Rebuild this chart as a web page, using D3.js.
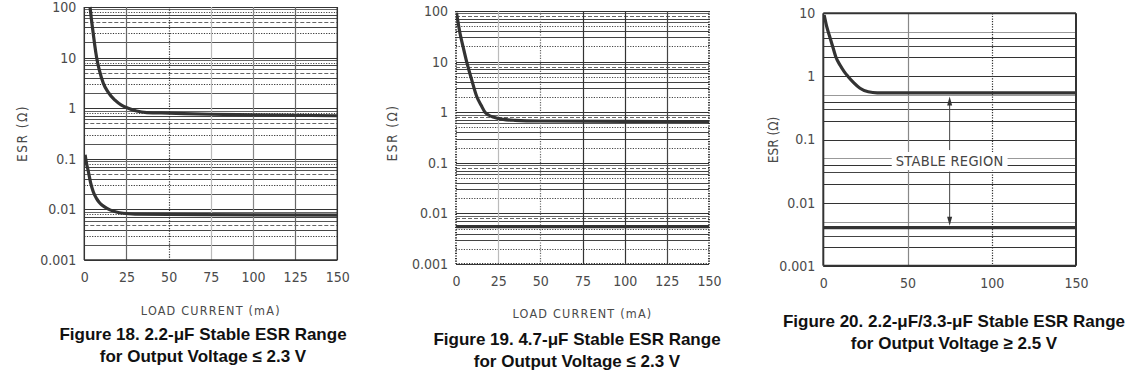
<!DOCTYPE html>
<html lang="en">
<head>
<meta charset="utf-8">
<title>Stable ESR Range</title>
<style>
body{ margin:0; background:#fff; }
svg{ display:block; }
.tick text{
  font-family: "DejaVu Sans Condensed", "DejaVu Sans", sans-serif;
  font-size: 14px;
  fill: #4a4a4a;
}
.axis-title{
  font-family: "DejaVu Sans Condensed", "DejaVu Sans", sans-serif;
  fill: #4a4a4a;
  text-anchor: middle;
}
.caption{
  font-family: "Liberation Sans", Arial, sans-serif;
  font-weight: bold;
  font-size: 17px;
  fill: #111;
  text-anchor: middle;
}
</style>
</head>
<body>
<div id="chart"></div>
<script src="https://d3js.org/d3.v7.min.js"></script>
<script>
// ---- data ----
const yLabels = {0.001: "0.001", 0.01: "0.01", 0.1: "0.1", 1: "1", 10: "10", 100: "100"};

// Figure 18, 2.2 uF, Vout <= 2.3 V
const fig18XTicks = [0, 25, 50, 75, 100, 125, 150];
const fig18YTicks = [0.001, 0.01, 0.1, 1, 10, 100];
const fig18UpperCurrent = [3.4, 4.2, 5.3, 6.2, 7.3, 9, 11.3, 14, 18.2, 22, 26, 31, 37, 50, 75, 100, 150];
const fig18UpperEsr     = [100, 58, 30, 17.5, 10, 5.5, 3.1, 2.1, 1.44, 1.15, 1.0, 0.88, 0.82, 0.8, 0.76, 0.74, 0.71];
const fig18LowerCurrent = [0.5, 1.2, 2.4, 3.8, 5.3, 7.2, 9.3, 12, 15.2, 19, 23, 30, 50, 100, 150];
const fig18LowerEsr     = [0.12, 0.085, 0.056, 0.033, 0.0224, 0.0165, 0.0132, 0.0112, 0.0098, 0.0089, 0.0084, 0.0081, 0.008, 0.0078, 0.0077];

// Figure 19, 4.7 uF, Vout <= 2.3 V
const fig19XTicks = [0, 25, 50, 75, 100, 125, 150];
const fig19YTicks = [0.001, 0.01, 0.1, 1, 10, 100];
const fig19UpperCurrent = [0.3, 2.4, 4.3, 6.3, 9.2, 12.3, 15, 17.2, 19.5, 22, 28, 35, 50, 100, 150];
const fig19UpperEsr     = [92, 36, 19, 10, 4.5, 2.04, 1.35, 1.0, 0.87, 0.8, 0.72, 0.69, 0.67, 0.66, 0.65];
const fig19LowerCurrent = [0, 150];
const fig19LowerEsr     = [0.0055, 0.0055];

// Figure 20, 2.2 uF / 3.3 uF, Vout >= 2.5 V
const fig20XTicks = [0, 50, 100, 150];
const fig20YTicks = [0.001, 0.01, 0.1, 1, 10];
const fig20UpperCurrent = [0.5, 2, 4, 5.7, 7.4, 10, 12.5, 14.8, 18, 21.8, 26.7, 32, 50, 100, 150];
const fig20UpperEsr     = [9.4, 6.2, 4.1, 2.9, 2.05, 1.5, 1.18, 0.99, 0.8, 0.65, 0.57, 0.55, 0.55, 0.55, 0.55];
const fig20LowerCurrent = [0, 150];
const fig20LowerEsr     = [0.004, 0.004];

// ---- drawing ----
const width = 1137, height = 384;
const svg = d3.select("#chart").append("svg")
  .attr("width", width)
  .attr("height", height);

svg.append("rect").attr("width", width).attr("height", height).attr("fill", "#fff");

const dash = {solid: null, dot: "1.2,1.4", dash: "4,2"};

function zip(xs, ys) { return xs.map((v, i) => [v, ys[i]]); }
function mult(v) { return Math.round(v / Math.pow(10, Math.floor(Math.log10(v) + 1e-9))); }

function panel(cfg) {
  const x = d3.scaleLinear().domain([0, 150]).range([cfg.left, cfg.right]);
  const y = d3.scaleLog().domain(cfg.yDomain).range([cfg.bottom, cfg.top]);
  const g = svg.append("g");

  // horizontal grid, one line per 1..9 multiple of every decade
  const levels = y.ticks().filter(v => mult(v) <= cfg.maxMult);
  g.selectAll(".hgrid").data(levels).enter().append("line")
    .attr("x1", cfg.left).attr("x2", cfg.right)
    .attr("y1", d => Math.round(y(d)) + 0.5).attr("y2", d => Math.round(y(d)) + 0.5)
    .attr("stroke", d => cfg.hStyle[mult(d) - 1][1])
    .attr("stroke-width", 1)
    .attr("stroke-dasharray", d => dash[cfg.hStyle[mult(d) - 1][0]]);

  // vertical grid
  const inner = cfg.xTicks.slice(1, -1);
  g.selectAll(".vgrid").data(inner).enter().append("line")
    .attr("x1", d => Math.round(x(d)) + 0.5).attr("x2", d => Math.round(x(d)) + 0.5)
    .attr("y1", cfg.top).attr("y2", cfg.bottom)
    .attr("stroke", (d, i) => cfg.vStyle[i][1])
    .attr("stroke-width", 1.2)
    .attr("stroke-dasharray", (d, i) => dash[cfg.vStyle[i][0]]);

  // frame
  const b = cfg.border;
  const sides = [
    ["left", cfg.left, cfg.top, cfg.left, cfg.bottom],
    ["right", cfg.right, cfg.top, cfg.right, cfg.bottom],
    ["bottom", cfg.left, cfg.bottom, cfg.right, cfg.bottom],
    ["top", cfg.left, cfg.top, cfg.right, cfg.top]
  ].filter(s => b.sides.includes(s[0]));
  g.selectAll(".frame").data(sides).enter().append("line")
    .attr("x1", d => d[1]).attr("y1", d => d[2])
    .attr("x2", d => d[3]).attr("y2", d => d[4])
    .attr("stroke", b.color)
    .attr("stroke-width", b.width)
    .attr("stroke-dasharray", dash[b.style]);

  // annotation layer sits between grid and curves
  const notes = g.append("g");

  // curves
  const clipId = "clip" + cfg.id;
  svg.append("clipPath").attr("id", clipId).append("rect")
    .attr("x", cfg.left).attr("y", cfg.top - 1)
    .attr("width", cfg.right - cfg.left).attr("height", cfg.bottom - cfg.top + 1);
  const line = d3.line()
    .x(d => x(d[0])).y(d => y(d[1]))
    .curve(d3.curveMonotoneX);
  g.selectAll(".curve").data(cfg.curves).enter().append("path")
    .attr("clip-path", `url(#${clipId})`)
    .attr("d", d => line(d))
    .attr("fill", "none")
    .attr("stroke", "#333")
    .attr("stroke-width", 3.2)
    .attr("stroke-linejoin", "round");

  // axes
  g.append("g")
    .attr("transform", `translate(0,${cfg.bottom})`)
    .call(d3.axisBottom(x).tickValues(cfg.xTicks).tickSize(0).tickPadding(12.5))
    .call(a => a.select(".domain").remove());
  g.append("g")
    .attr("transform", `translate(${cfg.left},0)`)
    .call(d3.axisLeft(y).tickValues(cfg.yTicks).tickFormat(d => yLabels[d]).tickSize(0).tickPadding(8))
    .call(a => a.select(".domain").remove());

  // titles
  g.append("text")
    .attr("class", "axis-title")
    .attr("transform", `translate(${cfg.yTitle[0]},${cfg.yTitle[1]}) rotate(-90)`)
    .attr("dy", "0.35em")
    .attr("font-size", "13.5px")
    .attr("letter-spacing", cfg.yTitleSpacing)
    .text("ESR (Ω)");
  if (cfg.xTitle) {
    g.append("text")
      .attr("class", "axis-title")
      .attr("x", (cfg.left + cfg.right) / 2)
      .attr("y", cfg.xTitle)
      .attr("font-size", "12.5px")
      .attr("letter-spacing", "1.2px")
      .text("LOAD CURRENT (mA)");
  }
  g.selectAll(".caption").data(cfg.caption).enter().append("text")
    .attr("class", "caption")
    .attr("x", cfg.captionX)
    .attr("y", (d, i) => cfg.captionY + i * 21.7)
    .text(d => d);

  return {g, notes, x, y};
}

const style18 = [["solid", "#333"], ["solid", "#555"], ["dot", "#333"], ["solid", "#444"], ["dash", "#666"],
                 ["solid", "#555"], ["solid", "#444"], ["dot", "#444"], ["solid", "#666"]];
const style19 = [["solid", "#333"], ["dot", "#444"], ["solid", "#444"], ["solid", "#444"], ["dot", "#444"],
                 ["solid", "#555"], ["solid", "#444"], ["dash", "#666"], ["solid", "#666"]];
const style20 = [["solid", "#333"], ["solid", "#333"], ["solid", "#444"], ["solid", "#333"], ["solid", "#999"]];

panel({
  id: 18, left: 84.3, right: 337.3, top: 7, bottom: 260,
  yDomain: [0.001, 100], maxMult: 9,
  xTicks: fig18XTicks, yTicks: fig18YTicks,
  hStyle: style18,
  vStyle: [["solid", "#666"], ["dot", "#333"], ["solid", "#bbb"], ["solid", "#888"], ["solid", "#666"]],
  border: {sides: ["left", "right", "bottom"], color: "#333", width: 1.5, style: "solid"},
  curves: [zip(fig18UpperCurrent, fig18UpperEsr), zip(fig18LowerCurrent, fig18LowerEsr)],
  yTitle: [22.5, 133.5], yTitleSpacing: "1.5px", xTitle: 315,
  caption: ["Figure 18. 2.2-μF Stable ESR Range", "for Output Voltage ≤ 2.3 V"],
  captionX: 203, captionY: 340
});

panel({
  id: 19, left: 456, right: 709, top: 11, bottom: 264,
  yDomain: [0.001, 100], maxMult: 9,
  xTicks: fig19XTicks, yTicks: fig19YTicks,
  hStyle: style19,
  vStyle: [["solid", "#bbb"], ["dot", "#666"], ["solid", "#333"], ["solid", "#333"], ["solid", "#444"]],
  border: {sides: ["left", "right", "bottom"], color: "#333", width: 2, style: "dot"},
  curves: [zip(fig19UpperCurrent, fig19UpperEsr), zip(fig19LowerCurrent, fig19LowerEsr)],
  yTitle: [392, 133], yTitleSpacing: "1.5px", xTitle: 318,
  caption: ["Figure 19. 4.7-μF Stable ESR Range", "for Output Voltage ≤ 2.3 V"],
  captionX: 577, captionY: 345
});

const p20 = panel({
  id: 20, left: 823.3, right: 1076, top: 13.3, bottom: 265.7,
  yDomain: [0.001, 10], maxMult: 5,
  xTicks: fig20XTicks, yTicks: fig20YTicks,
  hStyle: style20,
  vStyle: [["solid", "#888"], ["dot", "#333"]],
  border: {sides: ["left", "right", "bottom", "top"], color: "#333", width: 2, style: "solid"},
  curves: [zip(fig20UpperCurrent, fig20UpperEsr), zip(fig20LowerCurrent, fig20LowerEsr)],
  yTitle: [773, 140], yTitleSpacing: "0px", xTitle: null,
  caption: ["Figure 20. 2.2-μF/3.3-μF Stable ESR Range", "for Output Voltage ≥ 2.5 V"],
  captionX: 954, captionY: 327
});

// stable-region annotation on figure 20
const ax = p20.x(75);
const bg = p20.notes.append("rect").attr("fill", "#fff");
const label = p20.notes.append("text")
  .attr("x", ax).attr("y", 166)
  .attr("text-anchor", "middle")
  .attr("font-family", "\"DejaVu Sans Condensed\", \"DejaVu Sans\", sans-serif")
  .attr("font-size", "14.5px")
  .attr("letter-spacing", "0.3px")
  .attr("fill", "#444")
  .text("STABLE REGION");
const bb = label.node().getBBox();
bg.attr("x", bb.x - 4).attr("y", bb.y - 1)
  .attr("width", bb.width + 8).attr("height", bb.height + 2);

const arrows = [
  {from: p20.y(0.068), to: p20.y(0.5) + 1},
  {from: p20.y(0.031), to: p20.y(0.004) - 2}
];
arrows.forEach(a => {
  const dir = a.to < a.from ? 1 : -1;
  p20.notes.append("line")
    .attr("x1", ax).attr("x2", ax)
    .attr("y1", a.from).attr("y2", a.to + dir * 6)
    .attr("stroke", "#444").attr("stroke-width", 1);
  p20.notes.append("path")
    .attr("d", `M${ax},${a.to} L${ax - 2.5},${a.to + dir * 9} L${ax + 2.5},${a.to + dir * 9} Z`)
    .attr("fill", "#333");
});
</script>
</body>
</html>
